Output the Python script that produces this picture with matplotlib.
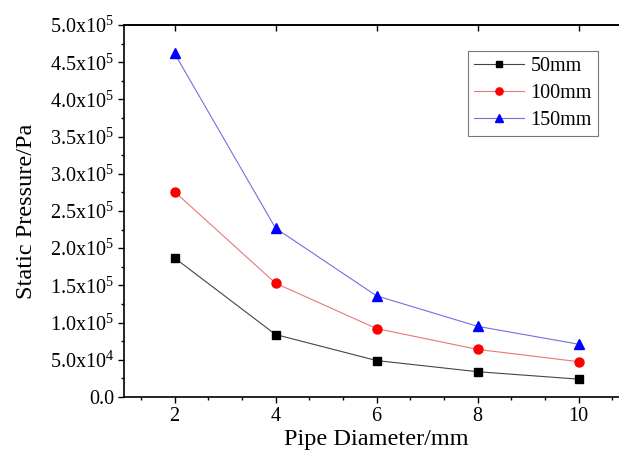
import matplotlib
matplotlib.use("Agg")
import matplotlib.pyplot as plt
from matplotlib.ticker import MultipleLocator, FuncFormatter
import numpy as np

plt.rcParams['font.family'] = ['Liberation Serif', 'DejaVu Serif']
plt.rcParams['mathtext.fontset'] = 'custom'
plt.rcParams['mathtext.rm'] = 'Liberation Serif'

diameters = [2, 4, 6, 8, 10]
p_50 = [1.87e5, 0.84e5, 0.49e5, 0.34e5, 0.24e5]
p_100 = [2.76e5, 1.53e5, 0.92e5, 0.64e5, 0.475e5]
p_150 = [4.62e5, 2.27e5, 1.36e5, 0.95e5, 0.71e5]
labels = ['50mm', '100mm', '150mm']

fig = plt.figure(figsize=(6.19, 4.62), dpi=100)
ax = fig.add_axes([124/619, 65/462, 505/619, 372/462])

ax.plot(diameters, p_50, color='#444444', lw=0.8, marker='s', ms=6, mfc='black', mec='black', label=labels[0])
ax.plot(diameters, p_100, color='#e87878', lw=0.8, marker='o', ms=6.5, mfc='red', mec='red', label=labels[1])
ax.plot(diameters, p_150, color='#7070e0', lw=0.8, marker='^', ms=7, mfc='blue', mec='blue', label=labels[2])

ax.set_xlim(1, 11)
ax.set_ylim(0, 5e5)
ax.xaxis.set_major_locator(MultipleLocator(2))
ax.xaxis.set_minor_locator(MultipleLocator(2/3))
ax.yaxis.set_major_locator(MultipleLocator(0.5e5))
ax.yaxis.set_minor_locator(MultipleLocator(0.25e5))

def yfmt(v, pos):
    if v <= 1:
        return '0.0' if abs(v) < 1 else ''
    e = int(np.floor(np.log10(v) + 1e-9))
    m = v / 10**e
    return r'$\mathregular{%.1fx10^{%d}}$' % (m, e)

ax.yaxis.set_major_formatter(FuncFormatter(yfmt))
ax.tick_params(which='major', direction='out', length=4, width=1, labelsize=14.5, pad=3)
ax.tick_params(which='minor', direction='out', length=2.5, width=1)
ax.tick_params(top=False, right=False)
for s in ['left', 'bottom', 'top']:
    ax.spines[s].set_linewidth(1.2)
ax.spines['right'].set_visible(False)

sec = ax.secondary_xaxis('top')
sec.set_xticks([2, 4, 6, 8, 10])
sec.tick_params(direction='in', length=4, width=1, labeltop=False)
sec.spines['top'].set_linewidth(1.2)

ax.set_xlabel('Pipe Diameter/mm', fontsize=17.5, labelpad=2)
ax.set_ylabel('Static Pressure/Pa', fontsize=17.5, labelpad=9)

leg = ax.legend(loc='upper left', bbox_to_anchor=((468-124)/505, (397-51)/372),
                fontsize=14.5, frameon=True, fancybox=False, edgecolor='#555555',
                handlelength=2.5, borderpad=0.3, labelspacing=0.4, handletextpad=0.3,
                borderaxespad=0, markerscale=0.8)
leg.get_frame().set_linewidth(0.8)

fig.savefig('out.png', dpi=100)
